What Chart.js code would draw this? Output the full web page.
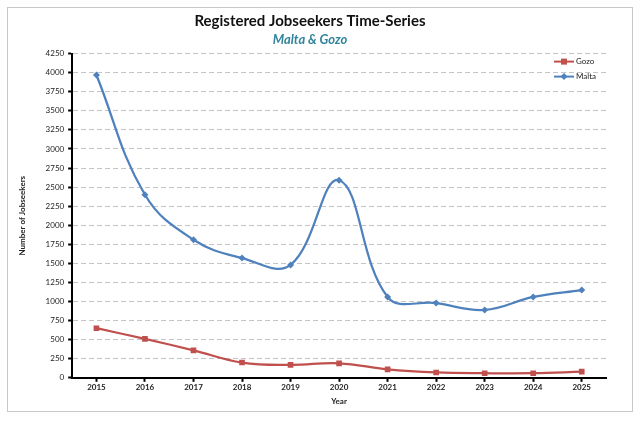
<!DOCTYPE html>
<html>
<head>
<meta charset="utf-8">
<script src="https://cdn.jsdelivr.net/npm/chart.js@4.4.0/dist/chart.umd.min.js"></script>
<style>
  body { margin: 0; background: #fff; }
  #wrap { position: relative; width: 644px; height: 421px; }
  #frame { position: absolute; left: 7px; top: 7px; width: 624px; height: 403px; border: 1px solid #c8c8c8; }
  canvas { position: absolute; left: 0; top: 0; }
</style>
</head>
<body>
<div id="wrap">
  <div id="frame"></div>
  <canvas id="mychart" width="644" height="421"></canvas>
</div>
<script>
var years = ['2015', '2016', '2017', '2018', '2019', '2020', '2021', '2022', '2023', '2024', '2025'];
var gozo = [650, 510, 360, 200, 170, 190, 110, 70, 60, 60, 80];
var malta = [3970, 2400, 1810, 1570, 1480, 2590, 1060, 980, 890, 1060, 1150];
var yTicks = [0, 250, 500, 750, 1000, 1250, 1500, 1750, 2000, 2250, 2500, 2750, 3000, 3250, 3500, 3750, 4000, 4250];

// legend drawn inside the plot, top right
const insideLegend = {
    id: 'insideLegend',
    afterDraw(chart) {
        const c = chart.ctx;
        const items = [
            { label: 'Gozo', color: '#C0504D', shape: 'rect' },
            { label: 'Malta', color: '#4F81BD', shape: 'diamond' }
        ];
        const x0 = chart.chartArea.right - 52;
        let y = chart.chartArea.top + 8;
        c.save();
        items.forEach(it => {
            c.strokeStyle = it.color;
            c.fillStyle = it.color;
            c.lineWidth = 2;
            c.beginPath();
            c.moveTo(x0, y);
            c.lineTo(x0 + 20, y);
            c.stroke();
            c.beginPath();
            if (it.shape === 'rect') {
                c.rect(x0 + 7, y - 3, 6, 6);
            } else {
                c.moveTo(x0 + 10, y - 3.5);
                c.lineTo(x0 + 13.5, y);
                c.lineTo(x0 + 10, y + 3.5);
                c.lineTo(x0 + 6.5, y);
                c.closePath();
            }
            c.fill();
            c.fillStyle = '#222';
            c.font = '8px Lato';
            c.textBaseline = 'middle';
            c.fillText(it.label, x0 + 22, y);
            y += 15;
        });
        c.restore();
    }
};

var ctx = document.getElementById('mychart').getContext('2d');
var myChart = new Chart(ctx, {
    type: 'line',
    data: {
        labels: years,
        datasets: [{
            label: 'Gozo',
            data: gozo,
            borderColor: '#C0504D',
            backgroundColor: '#C0504D',
            borderWidth: 2.25,
            pointStyle: 'rect',
            pointRadius: 4,
            pointBorderWidth: 0,
            tension: 0.4
        }, {
            label: 'Malta',
            data: malta,
            borderColor: '#4F81BD',
            backgroundColor: '#4F81BD',
            borderWidth: 2.25,
            pointStyle: 'rectRot',
            pointRadius: 3.5,
            pointBorderWidth: 0,
            tension: 0.4
        }]
    },
    options: {
        responsive: false,
        animation: false,
        layout: { padding: { left: 14, right: 38, top: 8, bottom: 11 } },
        plugins: {
            legend: { display: false },
            tooltip: { enabled: false },
            title: {
                display: true,
                text: 'Registered Jobseekers Time-Series',
                color: '#111',
                font: { family: 'Lato', size: 15, weight: 'bold' },
                padding: { top: 4, bottom: 2 }
            },
            subtitle: {
                display: true,
                text: 'Malta & Gozo',
                color: '#31849B',
                font: { family: 'Lato', size: 13, weight: 'bold', style: 'italic' },
                padding: { bottom: 6 }
            }
        },
        scales: {
            x: {
                offset: true,
                grid: { drawOnChartArea: false, tickColor: '#000', tickLength: 4, tickWidth: 2 },
                border: { color: '#000', width: 2 },
                ticks: { color: '#222', font: { family: 'Lato', size: 8, weight: 'bold' }, padding: 1 },
                title: { display: true, text: 'Year', color: '#222', font: { family: 'Lato', size: 8, weight: 'bold' }, padding: { top: 3 } }
            },
            y: {
                min: 0,
                max: 4250,
                afterBuildTicks: function (axis) {
                    axis.ticks = yTicks.map(v => ({ value: v }));
                },
                grid: { color: '#c4c4c4', lineWidth: 1, tickColor: '#000', tickLength: 4, tickWidth: 2 },
                border: { color: '#000', width: 2, dash: [5, 3] },
                ticks: { color: '#222', font: { family: 'Lato', size: 8 }, padding: 4, callback: v => String(v) },
                title: { display: true, text: 'Number of Jobseekers', color: '#222', font: { family: 'Lato', size: 8, weight: 'bold' }, padding: { bottom: 14 } }
            }
        }
    },
    plugins: [insideLegend]
});
</script>
</body>
</html>
